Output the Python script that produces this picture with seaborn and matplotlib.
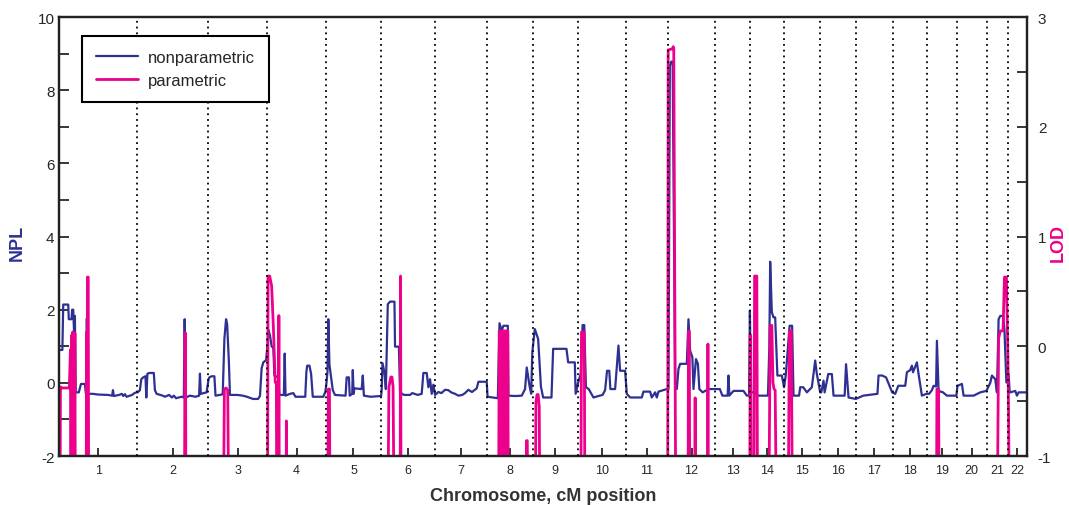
import numpy as np
import matplotlib
matplotlib.use("Agg")
import matplotlib.pyplot as plt
from matplotlib.lines import Line2D
import seaborn as sns

# chromosome lengths (cM)
chrom_names = [str(i) for i in range(1, 23)]
chrom_len = [279, 257, 213, 210, 199, 194, 186, 166, 161, 174, 152,
             168, 127, 122, 130, 128, 134, 121, 108, 109, 77, 66]

# nonparametric (NPL) curve, genome-wide cM position
npl_pos = [0, 11, 14, 32, 34, 44, 46, 50, 53, 56, 59, 70, 78, 92, 96, 99, 103,
           120, 140, 175, 190, 193, 196, 215, 225, 230, 236, 242, 250, 262, 270,
           278, 282, 290, 295, 302, 310, 313, 317, 324, 340, 344, 350, 372, 380,
           395, 405, 412, 420, 440, 448, 451, 455, 470, 490, 503, 506, 509, 520,
           530, 537, 540, 548, 558, 562, 585, 588, 594, 600, 604, 610, 614, 640,
           660, 675, 697, 715, 722, 728, 734, 744, 750, 752, 758, 764, 770, 774,
           787, 792, 808, 811, 814, 830, 842, 850, 885, 889, 892, 900, 906, 912,
           950, 957, 960, 965, 968, 972, 977, 984, 992, 1030, 1034, 1042, 1045,
           1054, 1056, 1059, 1062, 1088, 1092, 1096, 1120, 1140, 1158, 1160,
           1163, 1170, 1175, 1182, 1190, 1206, 1208, 1222, 1226, 1240, 1262,
           1270, 1290, 1304, 1310, 1322, 1328, 1334, 1340, 1346, 1352, 1364,
           1375, 1388, 1400, 1410, 1424, 1436, 1450, 1460, 1472, 1485, 1502,
           1508, 1538, 1541, 1560, 1578, 1584, 1592, 1598, 1614, 1616, 1640,
           1664, 1676, 1682, 1692, 1698, 1702, 1711, 1723, 1733, 1741, 1771,
           1777, 1825, 1831, 1855, 1858, 1867, 1876, 1883, 1889, 1895, 1905,
           1922, 1940, 1955, 1964, 1971, 1979, 1983, 2000, 2012, 2018, 2036,
           2042, 2054, 2096, 2102, 2126, 2132, 2144, 2150, 2156, 2186, 2192,
           2197, 2202, 2207, 2216, 2222, 2228, 2234, 2258, 2264, 2270, 2278,
           2282, 2291, 2298, 2303, 2315, 2336, 2355, 2377, 2386, 2405, 2408,
           2411, 2426, 2462, 2474, 2482, 2485, 2489, 2504, 2510, 2550, 2555,
           2558, 2564, 2570, 2576, 2584, 2600, 2608, 2614, 2628, 2637, 2642,
           2662, 2666, 2677, 2690, 2708, 2720, 2726, 2738, 2742, 2750, 2754,
           2767, 2780, 2786, 2826, 2831, 2840, 2866, 2893, 2944, 2948, 2961,
           2975, 2997, 3008, 3019, 3044, 3050, 3062, 3068, 3072, 3086, 3092,
           3104, 3120, 3130, 3140, 3146, 3155, 3158, 3164, 3180, 3194, 3228,
           3232, 3248, 3254, 3290, 3314, 3336, 3350, 3356, 3368, 3374, 3380,
           3386, 3396, 3401, 3408, 3416, 3420, 3422, 3440, 3446, 3452, 3482]
npl_val = [0.9, 0.9, 2.14, 2.14, 1.74, 1.74, 2.0, 2.0, 1.38, 1.83, -0.26, -0.26,
           -0.03, -0.03, -0.3, 1.76, -0.3, -0.3, -0.32, -0.33, -0.35, -0.2,
           -0.36, -0.33, -0.3, -0.36, -0.31, -0.38, -0.36, -0.33, -0.28, -0.26,
           -0.26, -0.2, 0.1, 0.15, 0.18, -0.4, 0.25, 0.27, 0.27, -0.2, -0.3,
           -0.35, -0.38, -0.33, -0.4, -0.35, -0.42, -0.38, -0.4, 1.74, -0.4,
           -0.35, -0.38, -0.35, 0.25, -0.3, -0.28, -0.26, 0.1, 0.15, 0.18, 0.18,
           -0.35, -0.32, -0.3, 1.2, 1.74, 1.6, 0.6, -0.33, -0.33, -0.35, -0.38,
           -0.44, -0.44, -0.36, 0.4, 0.56, 0.62, 1.1, 1.45, 1.3, 1.0, 0.95, 0.2,
           0.15, -0.33, -0.33, 0.8, -0.35, -0.3, -0.28, -0.38, -0.38, 0.3, 0.47,
           0.47, 0.25, -0.38, -0.38, -0.25, -0.1, 0.3, 1.74, 0.5, 0.2, -0.2,
           -0.33, -0.35, 0.15, 0.15, -0.35, -0.3, 0.35, -0.3, -0.15, -0.17, 0.2,
           -0.35, -0.38, -0.37, -0.36, -0.2, 0.54, 0.28, -0.17, 2.15, 2.22, 2.22,
           0.99, 0.99, -0.26, -0.33, -0.33, -0.28, -0.33, -0.3, 0.27, 0.27,
           -0.12, 0.1, -0.3, -0.05, -0.33, -0.25, -0.28, -0.19, -0.2, -0.26,
           -0.3, -0.35, -0.33, -0.28, -0.19, -0.25, -0.15, 0.03, 0.03, -0.38,
           -0.4, -0.42, 1.63, 1.42, 1.56, 1.56, -0.35, -0.36, -0.35, -0.17, 0.42,
           -0.08, -0.3, 0.83, 1.47, 1.2, -0.1, -0.4, -0.4, 0.93, 0.93, 0.56,
           0.56, -0.3, 0.01, 0.24, 1.58, 1.58, -0.12, -0.17, -0.4, -0.36, -0.33,
           -0.2, 0.33, 0.33, -0.17, -0.17, 1.02, 0.33, 0.33, -0.3, -0.4, -0.4,
           -0.24, -0.24, -0.4, -0.26, -0.4, -0.24, -0.17, -0.17, 8.67, 8.78,
           8.78, -0.08, -0.17, 0.38, 0.52, 0.52, 1.74, 0.88, 0.7, -0.17, 0.65,
           0.52, -0.17, -0.26, -0.17, -0.17, -0.17, -0.35, -0.35, 0.2, -0.35,
           -0.22, -0.22, -0.35, -0.35, 1.97, -0.26, -0.26, -0.35, -0.35, 1.0,
           3.31, 1.93, 1.79, 1.79, 0.2, 0.2, -0.12, 0.2, 1.56, 1.56, -0.35,
           -0.35, -0.12, -0.12, -0.26, -0.12, 0.61, 0.24, -0.26, -0.26, 0.06,
           -0.26, 0.24, 0.24, -0.35, -0.35, 0.51, -0.4, -0.44, -0.35, -0.3, 0.2,
           0.2, 0.15, -0.26, -0.3, -0.08, -0.08, 0.29, 0.35, 0.47, 0.29, 0.56,
           0.24, -0.35, -0.3, -0.3, -0.2, -0.08, -0.1, 1.15, -0.22, -0.26,
           -0.35, -0.35, -0.08, -0.03, -0.35, -0.35, -0.26, -0.22, 0.0, 0.2,
           0.1, -0.26, 1.74, 1.83, 1.83, 1.47, 0.01, 0.24, -0.26, -0.26, -0.22,
           -0.35, -0.26, -0.26]

# parametric (LOD) curve, values below -1 fall off the axis
lod_pos = [2, 4, 10, 36, 40, 42, 44, 46, 48, 51, 53, 56, 58, 96, 98, 100, 101,
           104, 106, 450, 452, 454, 456, 589, 594, 600, 606, 611, 749, 751, 757,
           764, 770, 777, 781, 783, 788, 790, 792, 815, 817, 819, 965, 968, 972,
           975, 1181, 1186, 1193, 1197, 1201, 1206, 1226, 1228, 1230, 1580,
           1583, 1586, 1588, 1591, 1593, 1596, 1599, 1606, 1608, 1611, 1614,
           1616, 1679, 1681, 1684, 1686, 1712, 1715, 1719, 1723, 1727, 1730,
           1876, 1879, 1889, 1892, 2189, 2191, 2206, 2209, 2211, 2219, 2262,
           2264, 2267, 2269, 2286, 2288, 2290, 2332, 2334, 2336, 2484, 2486,
           2488, 2491, 2499, 2502, 2510, 2513, 2552, 2558, 2564, 2568, 2572,
           2576, 2582, 2622, 2627, 2634, 2639, 3156, 3158, 3164, 3167, 3374,
           3380, 3386, 3396, 3401, 3408, 3413, 3416, 3420]
lod_val = [-2, -0.37, -0.38, -0.38, -0.03, -2, 0.1, -2, 0.13, 0.1, -2, 0.12, -2,
           -2, 0.13, -2, 0.63, 0.63, -2, -2, 0.12, 0.12, -2, -2, -0.39, -0.38,
           -0.4, -2, -2, 0.64, 0.64, 0.55, 0.19, -0.33, -0.33, -2, -2, 0.28, -2,
           -2, -0.68, -2, -2, -0.39, -0.39, -2, -2, -0.37, -0.28, -0.28, -0.37,
           -2, -2, 0.64, -2, -2, 0.14, 0.14, -2, -2, 0.14, -2, 0.14, 0.14, -2,
           0.14, 0.14, -2, -2, -0.86, -0.86, -2, -2, -0.51, -0.44, -0.44, -0.55,
           -2, -2, 0.13, 0.13, -2, -2, 2.70, 2.71, 2.73, 2.72, -2, -2, 0.14,
           0.14, -2, -2, -0.47, -2, -2, 0.02, -2, -2, 0.10, 0.10, -2, -2, 0.64,
           0.64, -2, -2, 0.19, 0.19, -0.33, -0.39, -0.4, -2, -2, 0.14, 0.14, -2,
           -2, -0.39, -0.39, -2, -2, 0.07, 0.14, 0.14, 0.63, 0.63, -0.02, -0.63,
           -2]

blue = "#2e3192"
pink = "#ec008c"

sns.set_style("ticks")
plt.rcParams['font.family'] = ['Liberation Sans', 'DejaVu Sans']
plt.rcParams['axes.unicode_minus'] = False

fig = plt.figure(figsize=(10.69, 5.06), dpi=100)
ax = fig.add_axes([0.0555, 0.0968, 0.9049, 0.8676])
ax2 = ax.twinx()

bounds = np.concatenate([[0], np.cumsum(chrom_len)])
centers = (bounds[:-1] + bounds[1:]) / 2

sns.lineplot(x=npl_pos, y=npl_val, ax=ax, color=blue, linewidth=1.6,
             estimator=None, sort=False, zorder=3)
sns.lineplot(x=lod_pos, y=lod_val, ax=ax2, color=pink, linewidth=2.0,
             estimator=None, sort=False, zorder=2)

for b in bounds[1:-1]:
    ax2.axvline(b, color="black", linestyle=(0, (1, 2.2)), linewidth=1.3, zorder=4)

ax.set_xlim(bounds[0], bounds[-1])
ax.set_ylim(-2, 10)
ax2.set_ylim(-1, 3)

ax.set_xticks(centers)
ax.set_xticklabels(chrom_names, fontsize=9)
ax.set_yticks(np.arange(-2, 11, 2))
ax.set_yticks(np.arange(-1, 10, 2), minor=True)
ax.tick_params(axis='y', labelsize=11, direction='in', length=7, width=1.3)
ax.tick_params(axis='y', which='minor', direction='in', length=7, width=1.3)
ax.tick_params(axis='x', direction='in', length=6, width=1.3, pad=6)
ax2.set_yticks([-1, 0, 1, 2, 3])
ax2.set_yticks([-0.5, 0.5, 1.5, 2.5], minor=True)
ax2.tick_params(axis='y', labelsize=11, direction='in', length=7, width=1.3, pad=8)
ax2.tick_params(axis='y', which='minor', direction='in', length=7, width=1.3)

for a in (ax, ax2):
    for s in a.spines.values():
        s.set_linewidth(1.6)
        s.set_color("#222222")

ax.set_ylabel("")
ax2.set_ylabel("")
ax.set_xlabel("Chromosome, cM position", fontsize=13, fontweight='bold',
              color="#333333", labelpad=8)
fig.text(0.016, 0.52, "NPL", rotation=90, fontsize=13, fontweight='bold',
         color=blue, ha='center', va='center')
fig.text(0.99, 0.52, "LOD", rotation=90, fontsize=13, fontweight='bold',
         color=pink, ha='center', va='center')

handles = [Line2D([], [], color=blue, linewidth=1.6),
           Line2D([], [], color=pink, linewidth=2.0)]
leg = ax2.legend(handles, ["nonparametric", "parametric"], loc='upper left',
                 bbox_to_anchor=(0.0235, 0.957), borderaxespad=0,
                 fontsize=12, frameon=True, fancybox=False, framealpha=1,
                 edgecolor="black", handlelength=2.5, handletextpad=0.6,
                 borderpad=0.85, labelspacing=0.45)
leg.get_frame().set_linewidth(1.5)
leg.set_zorder(10)

fig.savefig("out.png", dpi=100)
